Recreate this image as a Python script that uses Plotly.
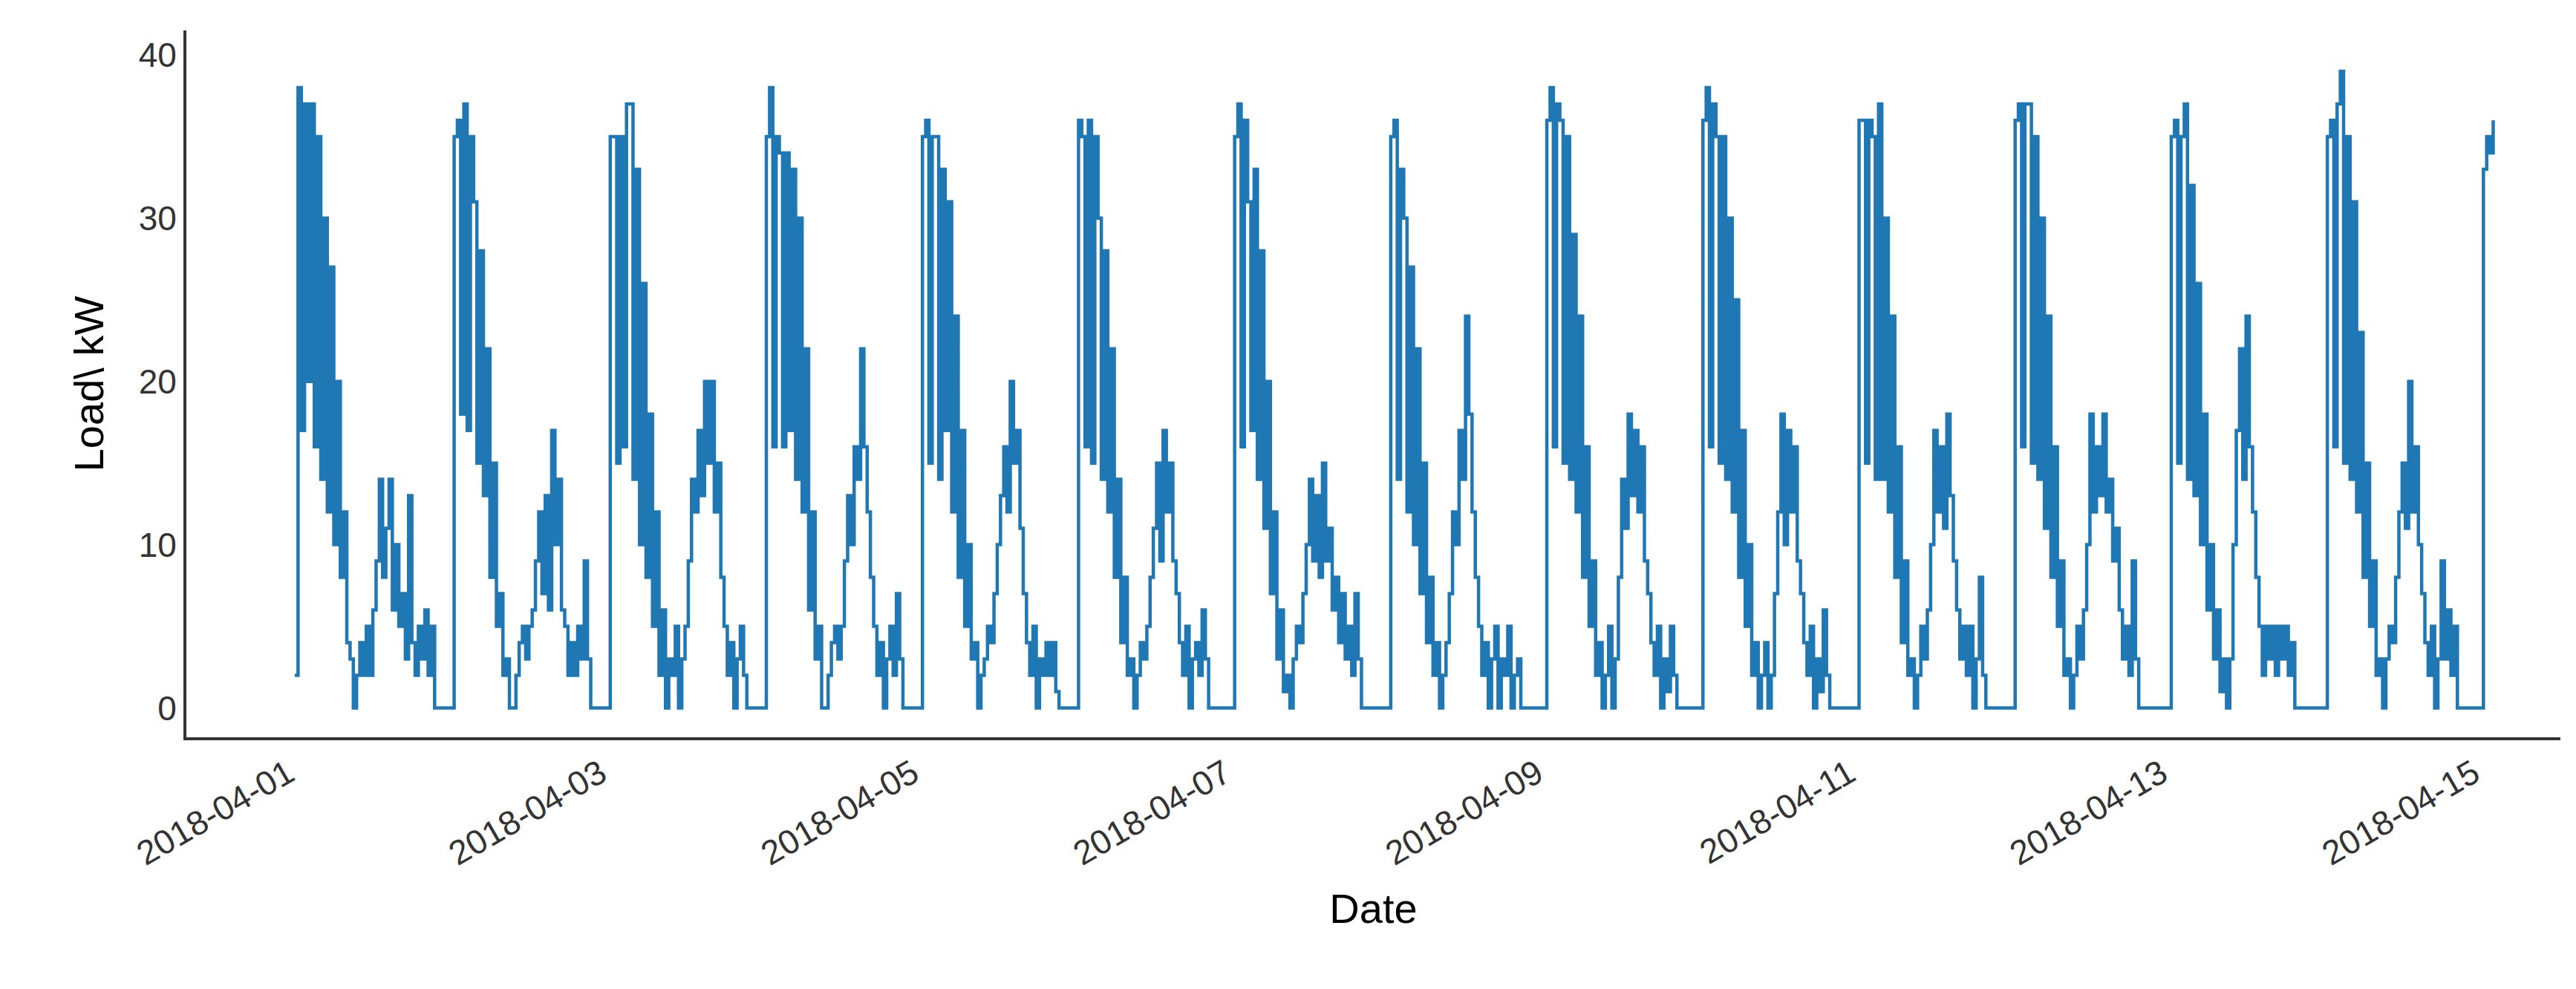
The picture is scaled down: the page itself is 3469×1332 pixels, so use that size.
import pandas as pd
import plotly.graph_objects as go

start_time = "2018-04-01 01:00"
step = "30min"
lead = [2]
d01 = [38,17,37,20,37,16,35,14,30,12,27,10,20,8,12,4,3,0,2,4,2,5,2,6,9,14,8,11,14,6,10,5,7,3,13,4,2,5,3,6,2,5,0,0,0,0,0,0]
d02 = [35,36,18,37,17,35,31,15,28,13,22,8,15,5,7,2,3,0,0,2,4,5,3,5,6,9,12,7,13,6,17,10,14,6,5,2,4,2,5,3,9,3,0,0,0,0,0,0]
d03 = [35,35,15,35,16,37,37,14,33,10,26,8,18,5,12,2,6,0,3,2,5,0,3,5,9,14,12,17,13,20,15,20,12,15,8,5,2,4,0,3,5,2,0,0,0,0,0,0]
d04 = [35,38,16,35,34,16,34,17,33,14,30,12,22,6,12,3,5,0,0,2,4,5,3,5,9,13,10,16,14,22,16,12,8,5,2,4,0,3,5,2,7,3,0,0,0,0,0,0]
d05 = [35,36,15,35,35,14,33,17,31,12,24,8,17,5,10,3,4,0,2,3,5,4,7,10,13,16,12,20,15,17,11,7,4,2,5,0,3,2,4,2,4,1,0,0,0,0,0,0]
d06 = [36,35,16,36,15,35,30,14,28,12,22,8,14,4,8,2,3,0,2,4,3,5,8,11,15,9,17,12,15,9,7,4,2,5,0,3,4,2,6,3,0,0,0,0,0,0,0,0]
d07 = [35,37,16,36,31,17,33,14,28,11,20,7,12,3,6,1,2,0,3,5,4,7,10,14,9,13,8,15,9,11,6,8,4,7,3,5,2,7,3,0,0,0,0,0,0,0,0,0]
d08 = [35,36,14,33,30,12,27,10,22,7,15,4,8,2,4,0,2,4,7,12,10,17,14,24,18,12,8,5,2,4,0,3,5,0,3,2,5,0,2,3,0,0,0,0,0,0,0,0]
d09 = [36,38,16,37,36,15,35,14,29,12,24,8,16,5,9,2,4,0,2,5,0,3,8,14,11,18,13,17,12,16,9,7,4,2,5,0,3,1,5,2,0,0,0,0,0,0,0,0]
d10 = [36,38,16,37,35,15,35,14,30,12,25,8,17,5,10,2,4,0,2,4,0,2,7,12,18,10,17,12,16,9,7,4,2,5,0,3,1,6,2,0,0,0,0,0,0,0,0,0]
d11 = [36,36,15,36,35,14,37,14,30,12,24,8,16,4,9,2,3,0,2,5,3,6,10,17,12,16,11,18,13,9,6,3,5,2,5,0,3,8,2,0,0,0,0,0,0,0,0,0]
d12 = [36,37,16,37,37,15,35,14,30,11,24,8,16,5,9,2,3,0,2,5,3,6,10,18,12,16,13,18,12,14,9,11,6,3,5,2,9,3,0,0,0,0,0,0,0,0,0,0]
d13 = [35,36,15,35,37,14,32,13,26,10,18,6,10,3,6,1,3,0,3,10,17,22,14,24,16,12,8,5,2,5,3,5,2,5,3,5,2,4,0,0,0,0,0,0,0,0,0,0]
d14 = [35,36,16,37,39,15,35,14,31,12,23,8,15,5,9,2,3,0,3,5,4,8,12,15,11,20,12,16,10,7,4,2,5,0,3,9,3,6,2,5,0,0,0,0,0,0,0,0]
d15 = [33,35,34,36]

days = [d01, d02, d03, d04, d05, d06, d07, d08, d09, d10, d11, d12, d13, d14, d15]
load = list(lead)
for d in days:
    load.extend(d)
times = pd.date_range(start=start_time, periods=len(load), freq=step)

fig = go.Figure(go.Scatter(x=times, y=load, mode="lines", line_shape="hv",
                           line=dict(color="#1f77b4", width=4.5)))
font = "Liberation Sans, Arial, sans-serif"
fig.update_layout(
    width=3469, height=1332, plot_bgcolor="white", paper_bgcolor="white",
    margin=dict(l=243, r=29, t=33, b=347), showlegend=False,
    font=dict(family=font, size=46, color="#333333"),
    xaxis=dict(range=["2018-03-31 08:20", "2018-04-15 13:20"], tickmode="linear",
               tick0="2018-04-01", dtick=2*86400000, tickformat="%Y-%m-%d",
               tickangle=-30, showgrid=False, showline=True, linecolor="#333333",
               linewidth=4, ticks="", zeroline=False,
               title=dict(text="Date", font=dict(size=56, color="#000000"), standoff=30)),
    yaxis=dict(range=[-1.8, 41.5], tickvals=[0, 10, 20, 30, 40], showgrid=False,
               showline=True, linecolor="#333333", linewidth=4, ticks="", zeroline=False,
               title=dict(text="Load\\ kW", font=dict(size=56, color="#000000"), standoff=30)),
)
fig.write_html("out.html")
